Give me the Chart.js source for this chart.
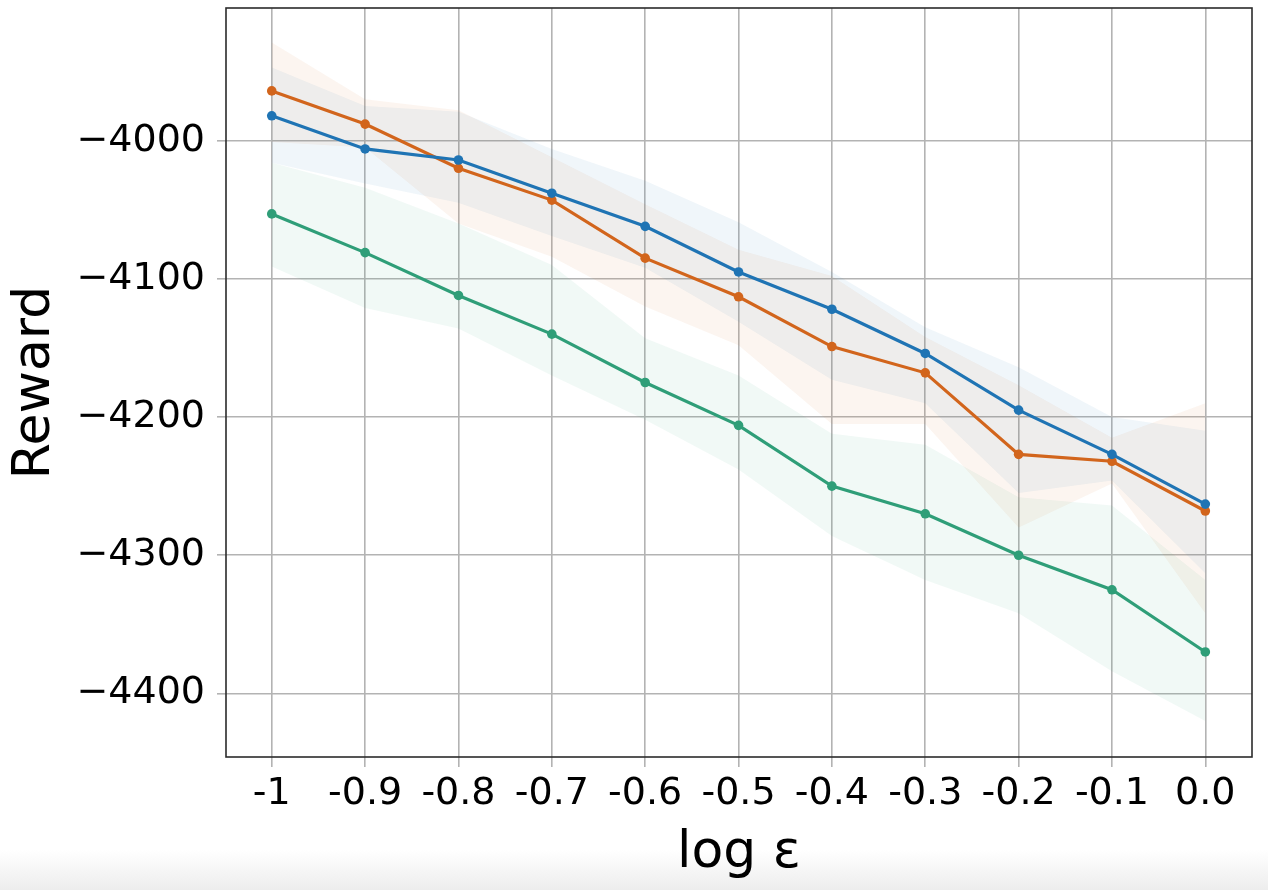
<!DOCTYPE html>
<html>
<head>
<meta charset="utf-8">
<script src="https://cdn.jsdelivr.net/npm/chart.js@4.4.1/dist/chart.umd.min.js"></script>
<style>
html,body{margin:0;padding:0;}
body{width:1268px;height:890px;overflow:hidden;background:linear-gradient(to bottom,#ffffff 0px,#ffffff 850px,#ededed 890px);}
#wrap{position:relative;width:1268px;height:890px;}
</style>
</head>
<body>
<div id="wrap"><canvas id="c"></canvas></div>
<script>
// ---- data ----
const xValues = [-1, -0.9, -0.8, -0.7, -0.6, -0.5, -0.4, -0.3, -0.2, -0.1, 0.0];
const xTickLabels = ['-1', '-0.9', '-0.8', '-0.7', '-0.6', '-0.5', '-0.4', '-0.3', '-0.2', '-0.1', '0.0'];
const yTicks = [-4400, -4300, -4200, -4100, -4000];

const blueMean  = [-3982, -4006, -4014, -4038, -4062, -4095, -4122, -4154, -4195, -4227, -4263];
const blueUpper = [-3947, -3975, -3979, -4006, -4029, -4059, -4095, -4135, -4164, -4200, -4210];
const blueLower = [-4016, -4031, -4045, -4069, -4092, -4131, -4173, -4190, -4255, -4246, -4313];

const orangeMean  = [-3964, -3988, -4020, -4043, -4085, -4113, -4149, -4168, -4227, -4232, -4268];
const orangeUpper = [-3929, -3970, -3978, -4012, -4046, -4079, -4098, -4142, -4177, -4215, -4190];
const orangeLower = [-4001, -4005, -4060, -4084, -4120, -4148, -4205, -4205, -4280, -4248, -4342];

const greenMean  = [-4053, -4081, -4112, -4140, -4175, -4206, -4250, -4270, -4300, -4325, -4370];
const greenUpper = [-4016, -4034, -4060, -4090, -4143, -4170, -4212, -4220, -4258, -4264, -4318];
const greenLower = [-4091, -4121, -4136, -4170, -4202, -4238, -4286, -4318, -4342, -4384, -4420];

const xMin = -1.049, xMax = 0.05;
const yMin = -4446, yMax = -3904;

// ---- styling ----
const FONT = 'DejaVu Sans';
const BLUE = '#1f74b4', ORANGE = '#d2651c', GREEN = '#2f9e78';
function rgba(hex, a) {
  const n = parseInt(hex.slice(1), 16);
  return `rgba(${(n >> 16) & 255},${(n >> 8) & 255},${n & 255},${a})`;
}
const pts = arr => arr.map((v, i) => ({ x: xValues[i], y: v }));

function band(upper, lower, color) {
  return [
    { data: pts(upper), borderWidth: 0, pointRadius: 0, fill: '+1', backgroundColor: rgba(color, 0.065), borderColor: 'transparent', order: 5 },
    { data: pts(lower), borderWidth: 0, pointRadius: 0, fill: false, borderColor: 'transparent', order: 5 }
  ];
}
function line(mean, color) {
  return { data: pts(mean), borderColor: color, backgroundColor: color, borderWidth: 3.2, pointRadius: 4.8, pointBorderWidth: 0, pointBackgroundColor: color, fill: false, order: 1 };
}

const framePlugin = {
  id: 'frame',
  afterDraw(chart) {
    const { ctx, chartArea: a } = chart;
    ctx.save();
    ctx.strokeStyle = '#2b2b2b';
    ctx.lineWidth = 1.6;
    ctx.strokeRect(a.left, a.top, a.right - a.left, a.bottom - a.top);
    ctx.restore();
  }
};

new Chart(document.getElementById('c'), {
  type: 'line',
  data: {
    datasets: [
      ...band(blueUpper, blueLower, BLUE),
      ...band(orangeUpper, orangeLower, ORANGE),
      ...band(greenUpper, greenLower, GREEN),
      line(blueMean, BLUE),
      line(orangeMean, ORANGE),
      line(greenMean, GREEN)
    ]
  },
  options: {
    responsive: true,
    maintainAspectRatio: false,
    animation: false,
    devicePixelRatio: 1,
    layout: { padding: { left: 0, right: 16, top: 8, bottom: 0 } },
    plugins: { legend: { display: false }, tooltip: { enabled: false } },
    elements: { line: { tension: 0 } },
    scales: {
      x: {
        type: 'linear',
        min: xMin, max: xMax,
        afterBuildTicks: s => { s.ticks = xValues.map(v => ({ value: v })); },
        afterFit: s => { s.height = 133; s.paddingLeft = 0; s.paddingRight = 0; },
        grid: { color: '#b3b3b3', lineWidth: 1.6, tickLength: 10, drawTicks: true },
        border: { display: false },
        ticks: {
          color: '#000', padding: 4, maxRotation: 0, autoSkip: false,
          font: { family: FONT, size: 38 },
          callback: (v) => { const i = xValues.findIndex(x => Math.abs(x - v) < 1e-9); return i >= 0 ? xTickLabels[i] : ''; }
        },
        title: { display: true, text: 'log ε', color: '#000', font: { family: FONT, size: 52 }, padding: { top: 0, bottom: 5 } }
      },
      y: {
        type: 'linear',
        min: yMin, max: yMax,
        afterBuildTicks: s => { s.ticks = yTicks.map(v => ({ value: v })); },
        afterFit: s => { s.width = 226; s.paddingTop = 0; s.paddingBottom = 0; },
        grid: { color: '#b3b3b3', lineWidth: 1.6, tickLength: 9, drawTicks: true },
        border: { display: false },
        ticks: {
          color: '#000', padding: 12,
          font: { family: FONT, size: 38 },
          callback: v => String(v).replace('-', '\u2212')
        },
        title: { display: true, text: 'Reward', color: '#000', font: { family: FONT, size: 52 }, padding: { top: 4, bottom: 0 } }
      }
    }
  },
  plugins: [framePlugin]
});
</script>
</body>
</html>
